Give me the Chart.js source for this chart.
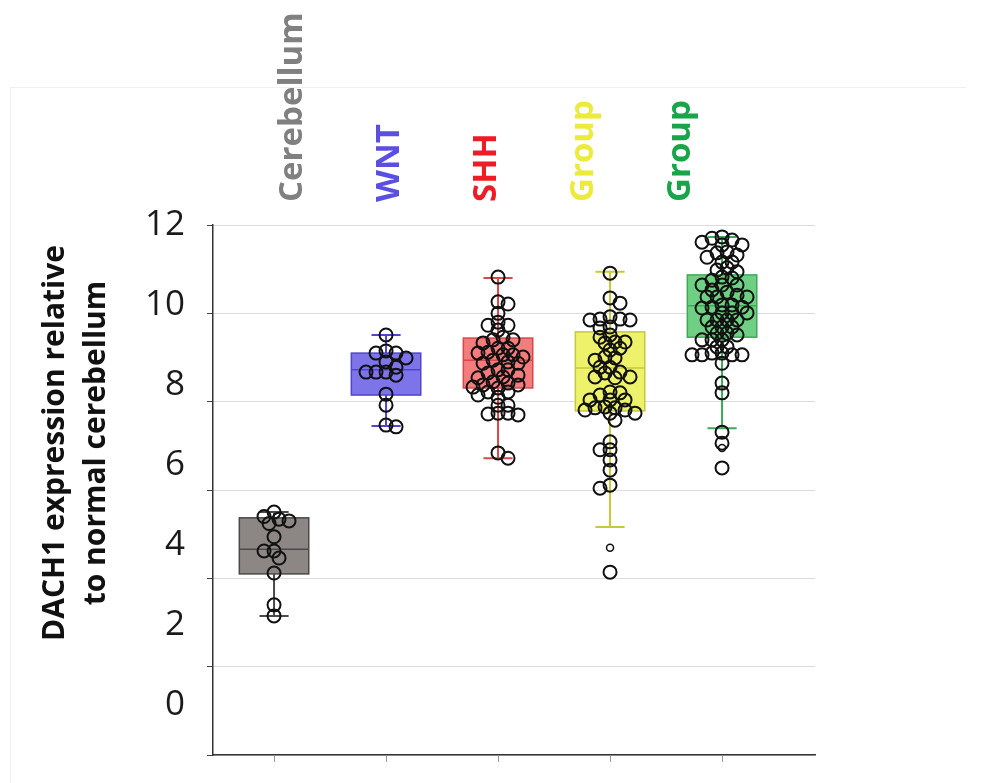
<!DOCTYPE html>
<html>
<head>
<meta charset="utf-8">
<script src="https://cdn.jsdelivr.net/npm/chart.js@4.4.1/dist/chart.umd.min.js"></script>
<style>
  html, body { margin: 0; padding: 0; background: #fff; }
  #wrap { position: relative; width: 1008px; height: 783px; overflow: hidden; }
  #frame { position: absolute; left: 10px; top: 87px; width: 955px; height: 700px;
           border-top: 1px solid #f1f1f1; border-left: 1px solid #f1f1f1; }
  #ytitle { position: absolute; left: -155px; top: 405px; width: 450px; height: 76px;
            line-height: 38px; text-align: center; font: 700 30px "Open Sans", sans-serif;
            color: #111; transform: rotate(-90deg); white-space: nowrap; }
  canvas { position: absolute; left: 0; top: 0; }
</style>
</head>
<body>
<div id="wrap">
  <div id="frame"></div>
  <canvas id="chart" width="1008" height="783"></canvas>
  <div id="ytitle">DACH1 expression relative<br>to normal cerebellum</div>
</div>
<script>
const categories = ["Cerebellum", "WNT", "SHH", "Group", "Group"];
const labelColors = ["#808080", "#5b4fe3", "#ee1c24", "#ecea3a", "#17a54a"];
const yTickLabels = [0, 2, 4, 6, 8, 10, 12];

// box statistics per group
const boxMin = [3.15, 7.45, 6.72, 5.16, 7.40];
const boxQ1 = [4.10, 8.15, 8.31, 7.79, 9.46];
const boxMedian = [4.66, 8.72, 8.94, 8.76, 10.17];
const boxQ3 = [5.37, 9.10, 9.44, 9.58, 10.87];
const boxMax = [5.50, 9.51, 10.80, 10.94, 11.73];

// individual samples
const cerebellumVals = [5.50, 5.40, 5.34, 5.30, 5.24, 4.94, 4.62, 4.62, 4.46, 4.12, 3.40, 3.15];
const wntVals = [9.51, 9.15, 9.10, 9.10, 8.99, 8.90, 8.78, 8.67, 8.67, 8.67, 8.60, 8.17, 7.92, 7.47, 7.43];
const shhVals = [10.82, 10.26, 10.21, 10.00, 9.80, 9.73, 9.73, 9.62, 9.46, 9.40, 9.40, 9.33, 9.21, 9.21,
  9.12, 9.10, 9.06, 9.06, 9.01, 8.94, 8.90, 8.87, 8.87, 8.72, 8.72, 8.65, 8.60, 8.56, 8.54, 8.45,
  8.42, 8.38, 8.38, 8.33, 8.31, 8.22, 8.22, 8.15, 8.10, 7.92, 7.92, 7.74, 7.74, 7.72, 7.70, 6.84, 6.72];
const group3Vals = [10.91, 10.35, 10.23, 9.92, 9.87, 9.87, 9.85, 9.85, 9.69, 9.67, 9.51, 9.46, 9.35, 9.35,
  9.33, 9.21, 9.17, 9.01, 8.99, 8.94, 8.78, 8.78, 8.67, 8.65, 8.56, 8.56, 8.54, 8.22, 8.20, 8.15,
  8.04, 8.04, 8.04, 7.88, 7.86, 7.86, 7.81, 7.81, 7.74, 7.74, 7.58, 7.09, 6.91, 6.91, 6.68, 6.45,
  6.11, 6.04, 4.14];
const group3Small = [4.69];
const group4Vals = [11.73, 11.70, 11.66, 11.61, 11.55, 11.55, 11.39, 11.37, 11.32, 11.27, 11.16, 11.16,
  11.03, 10.98, 10.94, 10.82, 10.80, 10.75, 10.64, 10.64, 10.64, 10.53, 10.48, 10.41, 10.37, 10.37,
  10.37, 10.19, 10.19, 10.14, 10.14, 10.12, 10.01, 10.01, 10.01, 9.85, 9.85, 9.85, 9.85, 9.69, 9.69,
  9.69, 9.55, 9.55, 9.51, 9.40, 9.40, 9.40, 9.24, 9.24, 9.10, 9.10, 9.06, 9.06, 9.06, 9.06, 8.87,
  8.42, 8.20, 7.31, 7.06, 6.50];
const group4Small = [6.95];

const boxFill = ["#8c8684", "#7d74ea", "#f47c7c", "#eef26a", "#6fd083"];
const boxLine = ["#4a4a4a", "#4f45d0", "#d9474a", "#c5c93a", "#3caa56"];

// simple beeswarm spread (approx px per unit on each axis)
const PX_X = 112, PX_Y = 44.2, STEP = 5, MIN_D = 7.5, MAX_S = 6;
function swarm(vals, idx) {
  const placed = [];
  const out = [];
  const order = vals.map((v, k) => k).sort((a, b) => vals[b] - vals[a]);
  order.forEach((k, n) => {
    const py = vals[k] * PX_Y;
    let best = 0, bestD = -1;
    const first = n % 2 ? -1 : 1;
    outer:
    for (let s = 0; s <= MAX_S; s++) {
      for (const sign of (s ? [first, -first] : [1])) {
        const px = sign * s * STEP;
        let d = Infinity;
        for (const p of placed) d = Math.min(d, Math.hypot(p[0] - px, p[1] - py));
        if (d >= MIN_D) { best = px; break outer; }
        if (d > bestD) { bestD = d; best = px; }
      }
    }
    placed.push([best, py]);
    out.push({ x: idx + best / PX_X, y: vals[k] });
  });
  return out;
}

const groups = [cerebellumVals, wntVals, shhVals, group3Vals, group4Vals];
const pointSets = groups.map((g, i) => swarm(g, i));

const boxPlugin = {
  id: "boxes",
  beforeDatasetsDraw(chart) {
    const { ctx } = chart;
    const x = chart.scales.x, y = chart.scales.y;
    ctx.save();
    categories.forEach((c, i) => {
      const cx = x.getPixelForValue(i);
      const hw = x.getPixelForValue(i + 0.31) - cx;
      const cw = x.getPixelForValue(i + 0.13) - cx;
      const yMin = y.getPixelForValue(boxMin[i]);
      const yQ1 = y.getPixelForValue(boxQ1[i]);
      const yMed = y.getPixelForValue(boxMedian[i]);
      const yQ3 = y.getPixelForValue(boxQ3[i]);
      const yMax = y.getPixelForValue(boxMax[i]);
      ctx.strokeStyle = boxLine[i];
      ctx.lineWidth = 2;
      ctx.beginPath();
      ctx.moveTo(cx, yQ1); ctx.lineTo(cx, yMin);
      ctx.moveTo(cx - cw, yMin); ctx.lineTo(cx + cw, yMin);
      ctx.moveTo(cx, yQ3); ctx.lineTo(cx, yMax);
      ctx.moveTo(cx - cw, yMax); ctx.lineTo(cx + cw, yMax);
      ctx.stroke();
      ctx.fillStyle = boxFill[i];
      ctx.fillRect(cx - hw, yQ3, hw * 2, yQ1 - yQ3);
      ctx.lineWidth = 1.5;
      ctx.strokeRect(cx - hw, yQ3, hw * 2, yQ1 - yQ3);
      ctx.beginPath();
      ctx.moveTo(cx - hw, yMed); ctx.lineTo(cx + hw, yMed);
      ctx.stroke();
    });
    ctx.restore();
  }
};

const pointStyle = {
  type: "scatter",
  backgroundColor: "rgba(0,0,0,0)",
  borderColor: "#111",
  borderWidth: 2,
  pointRadius: 6.5,
  pointHoverRadius: 6.5,
  xAxisID: "x",
  yAxisID: "y"
};

const datasets = pointSets.map((pts, i) => Object.assign({ label: categories[i], data: pts }, pointStyle));
datasets.push(Object.assign({}, pointStyle, { label: "small3", data: group3Small.map(v => ({ x: 3, y: v })), pointRadius: 3.5, borderWidth: 1.5 }));
datasets.push(Object.assign({}, pointStyle, { label: "small4", data: group4Small.map(v => ({ x: 4, y: v })), pointRadius: 3.5, borderWidth: 1.5 }));

new Chart(document.getElementById("chart").getContext("2d"), {
  type: "scatter",
  data: { datasets: datasets },
  plugins: [boxPlugin],
  options: {
    responsive: false,
    animation: false,
    layout: { padding: { left: 0, top: 0, right: 193, bottom: 0 } },
    plugins: { legend: { display: false }, tooltip: { enabled: false } },
    scales: {
      x: {
        type: "linear",
        position: "bottom",
        min: -0.545,
        max: 4.83,
        afterBuildTicks: s => { s.ticks = categories.map((c, i) => ({ value: i })); },
        afterFit: s => { s.height = 28; },
        ticks: { display: false },
        grid: { drawOnChartArea: false, tickLength: 7, tickColor: "#9a9a9a" },
        border: { display: true, color: "#333", width: 1.5 }
      },
      xt: {
        type: "linear",
        position: "top",
        min: -1.226,
        max: 4.98,
        afterBuildTicks: s => { s.ticks = categories.map((c, i) => ({ value: i })); },
        afterFit: s => { s.height = 225; },
        ticks: {
          autoSkip: false,
          minRotation: 90,
          maxRotation: 90,
          padding: 23,
          font: { family: "'Open Sans', sans-serif", size: 33, weight: "bold" },
          color: c => labelColors[c.index],
          callback: v => categories[v]
        },
        grid: { display: false, drawTicks: false },
        border: { display: false }
      },
      y: {
        type: "linear",
        position: "left",
        weight: 0,
        min: 0,
        max: 12,
        afterBuildTicks: s => { s.ticks = yTickLabels.map(v => ({ value: v })); },
        afterFit: s => { s.width = 28; },
        ticks: { display: false },
        grid: { color: "#dcdcdc", lineWidth: 1, tickLength: 6, tickColor: "#444" },
        border: { display: true, color: "#333", width: 1.5 }
      },
      yl: {
        type: "linear",
        position: "left",
        weight: 1,
        min: -1.25,
        max: 12,
        afterBuildTicks: s => { s.ticks = yTickLabels.map(v => ({ value: v })); },
        afterFit: s => { s.width = 185; },
        ticks: {
          padding: 0,
          font: { family: "'Open Sans', sans-serif", size: 35, lineHeight: 1 },
          color: "#1a1a1a"
        },
        grid: { display: false, drawTicks: false },
        border: { display: false }
      }
    }
  }
});
</script>
</body>
</html>
